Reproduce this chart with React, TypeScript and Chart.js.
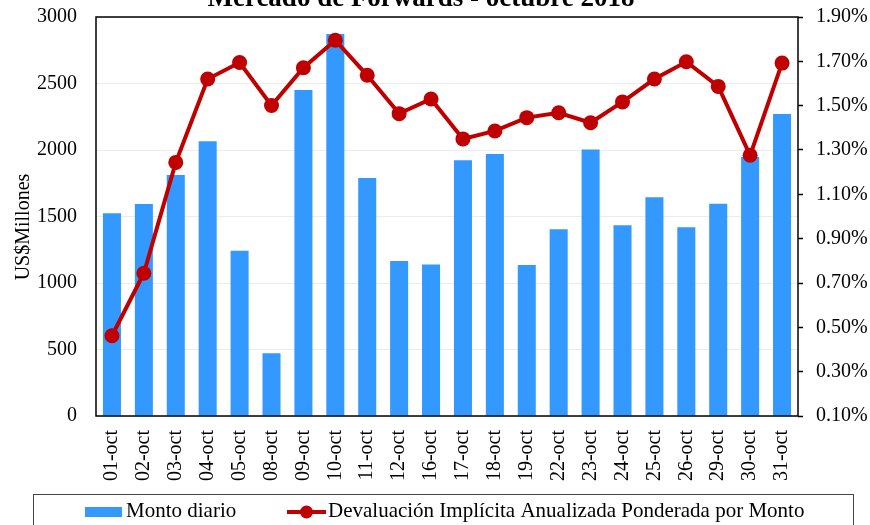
import React, { useEffect, useRef } from "react";
import { Chart, registerables } from "chart.js";

Chart.register(...registerables);

const categories = [
  "01-oct", "02-oct", "03-oct", "04-oct", "05-oct", "08-oct", "09-oct", "10-oct",
  "11-oct", "12-oct", "16-oct", "17-oct", "18-oct", "19-oct", "22-oct", "23-oct",
  "24-oct", "25-oct", "26-oct", "29-oct", "30-oct", "31-oct",
];

const montoDiario = [
  1524, 1594, 1812, 2065, 1243, 471, 2451, 2872, 1789, 1165, 1140,
  1922, 1970, 1135, 1404, 2003, 1434, 1644, 1419, 1596, 1947, 2271,
];

const devaluacion = [
  0.462, 0.744, 1.244, 1.62, 1.695, 1.501, 1.671, 1.795, 1.637, 1.464, 1.53,
  1.35, 1.386, 1.446, 1.468, 1.423, 1.517, 1.62, 1.698, 1.587, 1.276, 1.692,
];

const titleText = "Mercado de Forwards - octubre 2018";
const yTitle = "US$Millones";
const barLabel = "Monto diario";
const lineLabel = "Devaluación Implícita Anualizada Ponderada por Monto";

const leftMin = 0;
const leftMax = 3000;
const leftStep = 500;
const rightMin = 0.1;
const rightMax = 1.9;
const rightStep = 0.2;

const SERIF = '"Liberation Serif", "Times New Roman", Times, serif';
const BAR_COLOR = "#3399ff";
const LINE_COLOR = "#c00000";

const decorPlugin = {
  id: "decor",
  afterDraw(chart: any) {
    const ctx = chart.ctx as CanvasRenderingContext2D;
    const a = chart.chartArea;
    ctx.save();
    // frame
    ctx.strokeStyle = "#000";
    ctx.lineWidth = 1.5;
    ctx.strokeRect(a.left, a.top, a.right - a.left, a.bottom - a.top);

    // title
    ctx.fillStyle = "#000";
    ctx.font = `bold 27px ${SERIF}`;
    ctx.textAlign = "center";
    ctx.textBaseline = "alphabetic";
    ctx.fillText(titleText, 421, 6);

    // y axis title
    ctx.save();
    ctx.font = `20px ${SERIF}`;
    ctx.translate(29, 227);
    ctx.rotate(-Math.PI / 2);
    ctx.textAlign = "center";
    ctx.fillText(yTitle, 0, 0);
    ctx.restore();

    // legend box
    ctx.strokeStyle = "#444";
    ctx.lineWidth = 1;
    ctx.strokeRect(33.5, 494.5, 820, 60);
    ctx.fillStyle = BAR_COLOR;
    ctx.fillRect(85, 507, 37, 10);
    ctx.fillStyle = "#000";
    ctx.font = `21px ${SERIF}`;
    ctx.textAlign = "left";
    ctx.fillText(barLabel, 126, 517);

    ctx.strokeStyle = LINE_COLOR;
    ctx.lineWidth = 4;
    ctx.beginPath();
    ctx.moveTo(287, 512);
    ctx.lineTo(326, 512);
    ctx.stroke();
    ctx.fillStyle = LINE_COLOR;
    ctx.beginPath();
    ctx.arc(306.5, 512, 6.5, 0, Math.PI * 2);
    ctx.fill();
    ctx.fillStyle = "#000";
    ctx.fillText(lineLabel, 328, 517);
    ctx.restore();
  },
};

const zeroPad = (s: any) => {
  s.paddingTop = 0;
  s.paddingBottom = 0;
  s.paddingLeft = 0;
  s.paddingRight = 0;
};

export default function App() {
  const ref = useRef<HTMLCanvasElement | null>(null);

  useEffect(() => {
    if (!ref.current) return;
    const chart = new Chart(ref.current, {
      type: "bar",
      data: {
        labels: categories,
        datasets: [
          {
            type: "line",
            label: lineLabel,
            data: devaluacion,
            yAxisID: "y1",
            borderColor: LINE_COLOR,
            backgroundColor: LINE_COLOR,
            borderWidth: 4,
            pointRadius: 7.5,
            pointBackgroundColor: LINE_COLOR,
            pointBorderWidth: 0,
            tension: 0,
            order: 0,
          } as any,
          {
            type: "bar",
            label: barLabel,
            data: montoDiario,
            yAxisID: "y",
            backgroundColor: BAR_COLOR,
            borderWidth: 0,
            categoryPercentage: 1,
            barPercentage: 0.565,
            order: 1,
          } as any,
        ],
      },
      options: {
        responsive: false,
        animation: false,
        layout: { padding: { top: 17, left: 0, right: 0, bottom: 0 } },
        plugins: {
          legend: { display: false },
          title: { display: false },
          tooltip: { enabled: false },
        },
        scales: {
          x: {
            offset: true,
            grid: { display: false, drawTicks: false },
            border: { display: false },
            ticks: {
              autoSkip: false,
              minRotation: 90,
              maxRotation: 90,
              padding: 14,
              color: "#000",
              font: { family: SERIF, size: 20 },
            },
            afterFit: (s: any) => {
              s.height = 109;
              zeroPad(s);
            },
          },
          y: {
            position: "left",
            min: leftMin,
            max: leftMax,
            ticks: {
              stepSize: leftStep,
              padding: 19,
              color: "#000",
              font: { family: SERIF, size: 20 },
              callback: (v: any) => String(v),
            },
            grid: { color: "#ececec", lineWidth: 1, drawTicks: false },
            border: { display: false },
            afterFit: (s: any) => {
              s.width = 96;
              zeroPad(s);
            },
          },
          y1: {
            position: "right",
            min: rightMin,
            max: rightMax,
            ticks: {
              stepSize: rightStep,
              padding: 13,
              color: "#000",
              font: { family: SERIF, size: 20 },
              callback: (v: any) => Number(v).toFixed(2) + "%",
            },
            grid: {
              drawOnChartArea: false,
              drawTicks: true,
              tickLength: 5,
              tickColor: "#000",
              tickWidth: 1.5,
            },
            border: { display: false },
            afterFit: (s: any) => {
              s.width = 72;
              zeroPad(s);
            },
          },
        },
      } as any,
      plugins: [decorPlugin],
    });
    return () => chart.destroy();
  }, []);

  return (
    <div style={{ position: "fixed", left: 0, top: 0, width: 870, height: 525, background: "#fff" }}>
      <canvas ref={ref} width={870} height={525} style={{ display: "block" }} />
    </div>
  );
}
